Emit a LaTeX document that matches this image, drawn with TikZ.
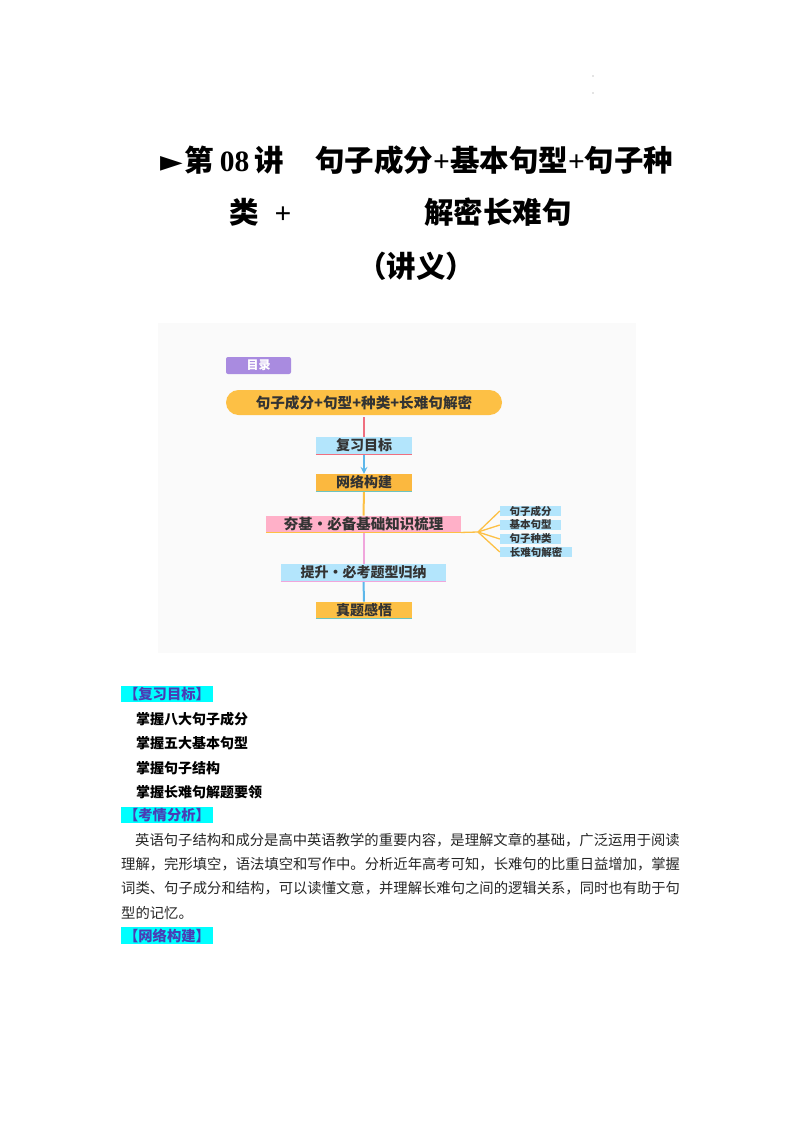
\documentclass[tikz,border=0pt]{standalone}
\usepackage{fontspec}
\usepackage{tikz}
\usetikzlibrary{shapes.misc}
\setmainfont{Liberation Serif}
\newfontfamily\cjk{Noto Sans CJK SC}
\newfontfamily\arrowfont{DejaVu Sans}
\definecolor{panelgray}{HTML}{FAFAFA}
\definecolor{tagpurple}{HTML}{A98BE0}
\definecolor{gold}{HTML}{FDC045}
\definecolor{deeporange}{HTML}{FBB83F}
\definecolor{skyblue}{HTML}{B3E5FC}
\definecolor{rosepink}{HTML}{FFB0C8}
\definecolor{wirered}{HTML}{EF6F7F}
\definecolor{wireblue}{HTML}{5DB7EA}
\definecolor{wirepink}{HTML}{F0A6DC}
\definecolor{wireteal}{HTML}{6CC4C0}
\definecolor{headink}{HTML}{4A3DB5}
\definecolor{headcyan}{HTML}{00FFFF}
\tikzset{
         box/.style={rectangle,inner sep=0pt,text=black!80,font=\cjk\fontsize{14}{14}\selectfont\bfseries},
         smallbox/.style={box,fill=skyblue,minimum height=10pt,font=\cjk\fontsize{10.5}{10.5}\selectfont\bfseries},
         wire/.style={line width=2pt},
         fork/.style={line width=1.3pt,gold},
         titletext/.style={anchor=west,inner sep=0pt,font=\fontsize{29.5}{29.5}\selectfont\bfseries},
         headtag/.style={fill=headcyan,text=headink,inner sep=0pt,minimum width=92pt,minimum height=16.5pt,font=\cjk\fontsize{14.3}{14.3}\selectfont\bfseries},
         goal/.style={anchor=west,inner sep=0pt,font=\cjk\fontsize{14}{14}\selectfont\bfseries},
         para/.style={anchor=west,inner sep=0pt,text=black!85,font=\cjk\fontsize{14.33}{14.33}\selectfont},
         speck/.style={circle,fill=black!45,inner sep=0pt,minimum size=1.2pt}
        }
\begin{document}
\begin{tikzpicture}[x=1pt,y=-1pt]
    \useasboundingbox (0,0) rectangle (800,1132);
    \node[speck] (speckA) at (593,76) {}; % upper speck
    \node[speck] (speckB) at (593,93) {}; % lower speck
    \node[titletext] (titleA) at (160,160) {{\arrowfont ►}\hspace{2pt}{\cjk 第}\hspace{5.5pt}08\hspace{5.5pt}{\cjk 讲}}; % lecture number
    \node[titletext] (titleB) at (315,160) {{\cjk 句子成分}+{\cjk 基本句型}+{\cjk 句子种}}; % first title line
    \node[titletext] (titleC) at (229,212) {{\cjk 类}\hspace{16pt}+}; % second line, left
    \node[titletext] (titleD) at (424,212) {\cjk 解密长难句}; % second line, right
    \node[titletext,anchor=center] (titleE) at (416,266) {\cjk （讲义）}; % third line
    \node[fill=panelgray,minimum width=478pt,minimum height=330pt,inner sep=0pt] (panel) at (397,488) {}; % picture panel
    \node[box,fill=tagpurple,text=white,rounded corners=2pt,minimum width=65pt,minimum height=17pt,font=\cjk\fontsize{12}{12}\selectfont\bfseries] (tag) at (258.5,365.5) {目录}; % tag
    \node[box,rounded rectangle,fill=gold,minimum width=276pt,minimum height=25pt,font=\cjk\fontsize{14.6}{14.6}\selectfont\bfseries] (pill) at (364,402.5) {句子成分+句型+种类+长难句解密}; % root
    \node[box,fill=skyblue,minimum width=96pt,minimum height=17pt] (revBox) at (364,445.5) {复习目标}; % review goals
    \node[box,fill=deeporange,minimum width=96pt,minimum height=17pt] (netBox) at (364,482.5) {网络构建}; % network
    \node[box,fill=rosepink,minimum width=195pt,minimum height=16.5pt,font=\cjk\fontsize{14.5}{14.5}\selectfont\bfseries] (baseBox) at (363.5,524) {夯基·必备基础知识梳理}; % basics
    \node[box,fill=skyblue,minimum width=165pt,minimum height=17pt] (liftBox) at (363.5,572.5) {提升·必考题型归纳}; % lift
    \node[box,fill=gold,minimum width=96pt,minimum height=16.5pt] (realBox) at (364,610) {真题感悟}; % real papers
    \node[smallbox,minimum width=61pt] (subA) at (530.5,511) {句子成分}; % first branch
    \node[smallbox,minimum width=61pt] (subB) at (530.5,525) {基本句型}; % second branch
    \node[smallbox,minimum width=61pt] (subC) at (530.5,539) {句子种类}; % third branch
    \node[smallbox,minimum width=72pt] (subD) at (536,552) {长难句解密}; % fourth branch
    \draw[wire,wirered,shorten <=2pt] (pill.south) -- (revBox.north); % Wiring
    \draw[wire,wireblue,-stealth] (revBox.south) -- (netBox.north); % Wiring
    \draw[wire,gold] (netBox.south) -- (baseBox.north); % Wiring
    \draw[wire,wirepink] (baseBox.south) -- (liftBox.north); % Wiring
    \draw[wire,wireblue] (liftBox.south) -- (realBox.north); % Wiring
    \draw[line width=0.8pt,wirered] (revBox.south west) -- (revBox.south east); % underline
    \draw[line width=0.8pt,wireteal] (netBox.south west) -- (netBox.south east); % underline
    \draw[line width=0.8pt,gold] (baseBox.south west) -- (baseBox.south east); % underline
    \draw[line width=0.8pt,wirepink] (liftBox.south west) -- (liftBox.south east); % underline
    \draw[line width=0.8pt,wireteal] (realBox.south west) -- (realBox.south east); % underline
    \coordinate (hub) at (478,532); % fork point
    \draw[fork] (baseBox.south east) -- (hub); % Wiring
    \draw[fork] (hub) -- (subA.west); % Wiring
    \draw[fork] (hub) -- (subB.west); % Wiring
    \draw[fork] (hub) -- (subC.west); % Wiring
    \draw[fork] (hub) -- (subD.west); % Wiring
    \node[headtag] (headA) at (167,694) {【复习目标】}; % first heading
    \node[goal] (goalA) at (136,719) {掌握八大句子成分}; % goal 1
    \node[goal] (goalB) at (136,743) {掌握五大基本句型}; % goal 2
    \node[goal] (goalC) at (136,768) {掌握句子结构}; % goal 3
    \node[goal] (goalD) at (136,792) {掌握长难句解题要领}; % goal 4
    \node[headtag] (headB) at (167,815) {【考情分析】}; % second heading
    \node[para] (lineA) at (135,840) {英语句子结构和成分是高中英语教学的重要内容，是理解文章的基础，广泛运用于阅读}; % line 1
    \node[para] (lineB) at (121,864) {理解，完形填空，语法填空和写作中。分析近年高考可知，长难句的比重日益增加，掌握}; % line 2
    \node[para] (lineC) at (121,888) {词类、句子成分和结构，可以读懂文意，并理解长难句之间的逻辑关系，同时也有助于句}; % line 3
    \node[para] (lineD) at (121,913) {型的记忆。}; % line 4
    \node[headtag] (headC) at (167,935.5) {【网络构建】}; % third heading
\end{tikzpicture}
\end{document}
